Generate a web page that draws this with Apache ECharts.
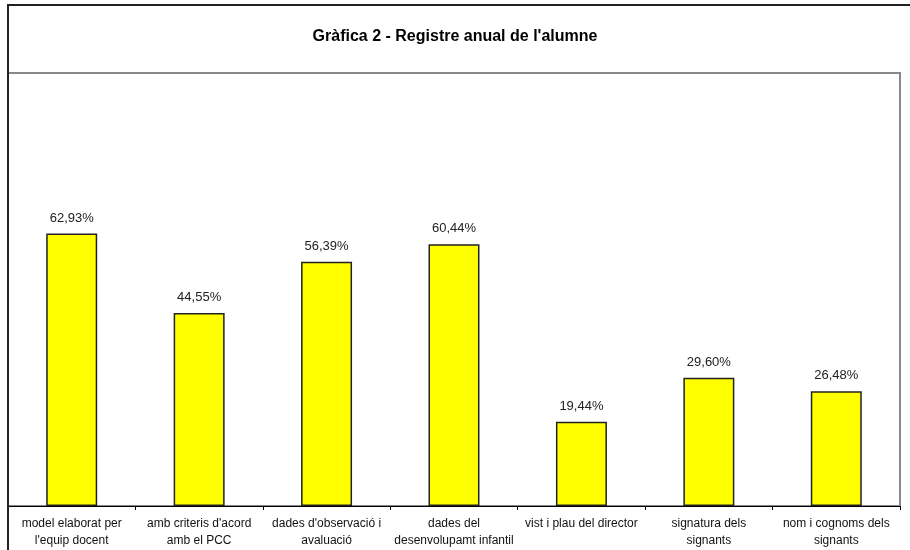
<!DOCTYPE html>
<html>
<head>
<meta charset="utf-8">
<script src="https://cdn.jsdelivr.net/npm/echarts@6/dist/echarts.min.js"></script>
<style>
  html, body { margin: 0; padding: 0; background: #fff; }
  #chart { width: 910px; height: 550px; }
</style>
</head>
<body>
<div id="chart"></div>
<script>
var categories = [
    "model elaborat per\nl'equip docent",
    "amb criteris d'acord\namb el PCC",
    "dades d'observació i\navaluació",
    "dades del\ndesenvolupamt infantil",
    "vist i plau del director",
    "signatura dels\nsignants",
    "nom i cognoms dels\nsignants"
];
var values = [62.93, 44.55, 56.39, 60.44, 19.44, 29.60, 26.48];

var font = 'Liberation Sans, Arial, sans-serif';

var myChart = echarts.init(document.getElementById('chart'));
myChart.setOption({
    animation: false,
    backgroundColor: '#fff',
    title: {
        text: "Gràfica 2 - Registre anual de l'alumne",
        left: 'center',
        top: 24,
        textStyle: {fontFamily: font, fontSize: 16, fontWeight: 'bold', color: '#000'}
    },
    graphic: [{
        type: 'polyline',
        shape: {points: [[8, 550], [8, 5], [910, 5]]},
        style: {stroke: '#222', lineWidth: 2, fill: null},
        z: 10
    }],
    grid: {
        left: 8, right: 10, top: 73, bottom: 44,
        show: true,
        borderColor: '#888',
        borderWidth: 2
    },
    xAxis: {
        type: 'category',
        data: categories,
        axisLine: {lineStyle: {color: '#000', width: 1}},
        axisTick: {show: true, length: 4, lineStyle: {color: '#000'}},
        axisLabel: {
            interval: 0, margin: 9, color: '#111',
            fontFamily: font, fontSize: 12, lineHeight: 17
        }
    },
    yAxis: {
        type: 'value',
        min: 0, max: 100,
        show: false
    },
    series: [{
        type: 'bar',
        data: values,
        barWidth: '40%',
        itemStyle: {color: '#ffff00', borderColor: '#222', borderWidth: 1.5},
        label: {
            show: true,
            position: 'top',
            distance: 9,
            color: '#222',
            fontFamily: font,
            fontSize: 13,
            formatter: function (p) { return p.value.toFixed(2).replace('.', ',') + '%'; }
        }
    }]
});
</script>
</body>
</html>
